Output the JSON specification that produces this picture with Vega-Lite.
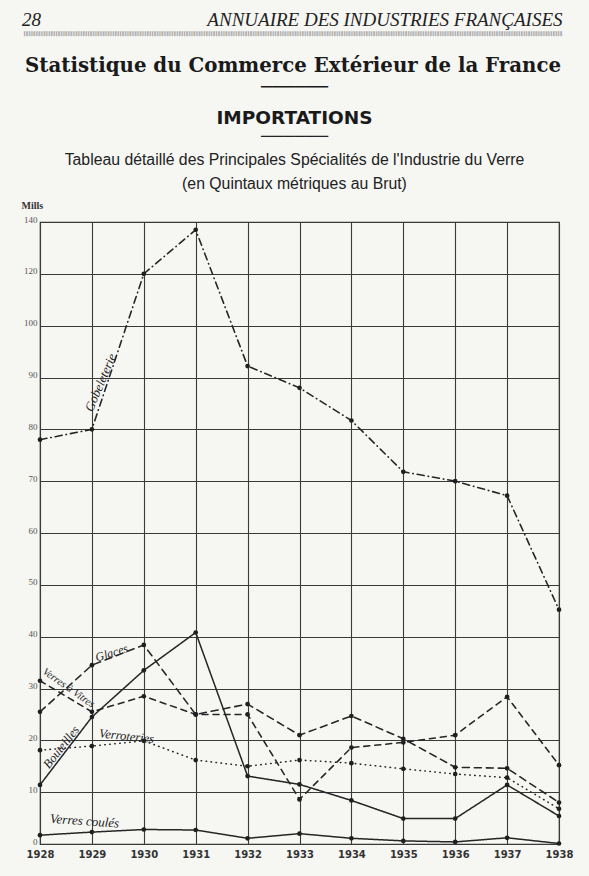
{
  "$schema": "https://vega.github.io/schema/vega-lite/v6.json",
  "background": "#f6f6f3",
  "padding": {"left": 20, "top": 11, "right": 27, "bottom": 19},
  "title": {
    "text": "28\u00a0\u00a0\u00a0\u00a0\u00a0\u00a0\u00a0\u00a0\u00a0\u00a0\u00a0\u00a0\u00a0\u00a0\u00a0\u00a0\u00a0\u00a0\u00a0\u00a0\u00a0\u00a0\u00a0\u00a0\u00a0\u00a0\u00a0\u00a0\u00a0\u00a0\u00a0\u00a0\u00a0\u00a0\u00a0ANNUAIRE DES INDUSTRIES FRANÇAISES",
    "subtitle": "||||||||||||||||||||||||||||||||||||||||||||||||||||||||||||||||||||||||||||||||||||||||||||||||||||||||||||||||||||||||||||||||||||||||||||||||||||||||||||||||||||||||||||||||||||||||||||||||||||||||||||||||||||||||||||||||||||||||||||||||||||||||||||||||||||||||||||||||||||||||||||||||||||||||||||||||||||||||||||||||",
    "anchor": "end",
    "frame": "bounds",
    "dx": -11,
    "font": "Liberation Serif",
    "fontStyle": "italic",
    "fontWeight": "normal",
    "fontSize": 19,
    "color": "#222222",
    "subtitleFont": "DejaVu Sans",
    "subtitleFontSize": 5,
    "subtitleColor": "#333333",
    "subtitlePadding": 1,
    "offset": 20
  },
  "datasets": {
    "series": [
      {"series": "Gobeleterie", "year": 1928, "value": 78},
      {"series": "Gobeleterie", "year": 1929, "value": 80},
      {"series": "Gobeleterie", "year": 1930, "value": 120},
      {"series": "Gobeleterie", "year": 1931, "value": 137},
      {"series": "Gobeleterie", "year": 1932, "value": 92.2},
      {"series": "Gobeleterie", "year": 1933, "value": 88},
      {"series": "Gobeleterie", "year": 1934, "value": 81.7},
      {"series": "Gobeleterie", "year": 1935, "value": 71.8},
      {"series": "Gobeleterie", "year": 1936, "value": 70},
      {"series": "Gobeleterie", "year": 1937, "value": 67.2},
      {"series": "Gobeleterie", "year": 1938, "value": 45.2},
      {"series": "Glaces", "year": 1928, "value": 25.5},
      {"series": "Glaces", "year": 1929, "value": 34.5},
      {"series": "Glaces", "year": 1930, "value": 38.4},
      {"series": "Glaces", "year": 1931, "value": 25},
      {"series": "Glaces", "year": 1932, "value": 27},
      {"series": "Glaces", "year": 1933, "value": 21},
      {"series": "Glaces", "year": 1934, "value": 24.7},
      {"series": "Glaces", "year": 1935, "value": 20.3},
      {"series": "Glaces", "year": 1936, "value": 14.8},
      {"series": "Glaces", "year": 1937, "value": 14.6},
      {"series": "Glaces", "year": 1938, "value": 8},
      {"series": "Verres à Vitres", "year": 1928, "value": 31.5},
      {"series": "Verres à Vitres", "year": 1929, "value": 25.5},
      {"series": "Verres à Vitres", "year": 1930, "value": 28.5},
      {"series": "Verres à Vitres", "year": 1931, "value": 25},
      {"series": "Verres à Vitres", "year": 1932, "value": 25},
      {"series": "Verres à Vitres", "year": 1933, "value": 8.6},
      {"series": "Verres à Vitres", "year": 1934, "value": 18.6},
      {"series": "Verres à Vitres", "year": 1935, "value": 19.6},
      {"series": "Verres à Vitres", "year": 1936, "value": 21},
      {"series": "Verres à Vitres", "year": 1937, "value": 28.4},
      {"series": "Verres à Vitres", "year": 1938, "value": 15.2},
      {"series": "Verroteries", "year": 1928, "value": 18.1},
      {"series": "Verroteries", "year": 1929, "value": 18.9},
      {"series": "Verroteries", "year": 1930, "value": 19.9},
      {"series": "Verroteries", "year": 1931, "value": 16.2},
      {"series": "Verroteries", "year": 1932, "value": 15},
      {"series": "Verroteries", "year": 1933, "value": 16.2},
      {"series": "Verroteries", "year": 1934, "value": 15.6},
      {"series": "Verroteries", "year": 1935, "value": 14.5},
      {"series": "Verroteries", "year": 1936, "value": 13.5},
      {"series": "Verroteries", "year": 1937, "value": 12.8},
      {"series": "Verroteries", "year": 1938, "value": 6.8},
      {"series": "Bouteilles", "year": 1928, "value": 11.4},
      {"series": "Bouteilles", "year": 1929, "value": 24.5},
      {"series": "Bouteilles", "year": 1930, "value": 33.5},
      {"series": "Bouteilles", "year": 1931, "value": 40.8},
      {"series": "Bouteilles", "year": 1932, "value": 13.1},
      {"series": "Bouteilles", "year": 1933, "value": 11.5},
      {"series": "Bouteilles", "year": 1934, "value": 8.4},
      {"series": "Bouteilles", "year": 1935, "value": 4.9},
      {"series": "Bouteilles", "year": 1936, "value": 4.9},
      {"series": "Bouteilles", "year": 1937, "value": 11.4},
      {"series": "Bouteilles", "year": 1938, "value": 5.4},
      {"series": "Verres coulés", "year": 1928, "value": 1.7},
      {"series": "Verres coulés", "year": 1929, "value": 2.3},
      {"series": "Verres coulés", "year": 1930, "value": 2.8},
      {"series": "Verres coulés", "year": 1931, "value": 2.7},
      {"series": "Verres coulés", "year": 1932, "value": 1.1},
      {"series": "Verres coulés", "year": 1933, "value": 2},
      {"series": "Verres coulés", "year": 1934, "value": 1.1},
      {"series": "Verres coulés", "year": 1935, "value": 0.6},
      {"series": "Verres coulés", "year": 1936, "value": 0.4},
      {"series": "Verres coulés", "year": 1937, "value": 1.2},
      {"series": "Verres coulés", "year": 1938, "value": 0.1}
    ],
    "labels": [
      {"label": "Gobeleterie", "year": 1929.17, "value": 89},
      {"label": "Glaces", "year": 1929.38, "value": 36.9},
      {"label": "Verres à Vitres", "year": 1928.55, "value": 30.1},
      {"label": "Bouteilles", "year": 1928.41, "value": 18.7},
      {"label": "Verroteries", "year": 1929.67, "value": 20.8},
      {"label": "Verres coulés", "year": 1928.86, "value": 4.4}
    ]
  },
  "vconcat": [
    {
      "title": {
        "text": "Statistique du Commerce Extérieur de la France",
        "anchor": "start",
        "frame": "group",
        "dx": -15,
        "font": "DejaVu Serif",
        "fontWeight": "bold",
        "fontSize": 19.8,
        "color": "#1a1a1a",
        "offset": 1
      },
      "vconcat": [
        {
          "title": {
            "text": ["──────", "IMPORTATIONS"],
            "subtitle": ["──────", "Tableau détaillé des Principales Spécialités de l'Industrie du Verre", "(en Quintaux métriques au Brut)"],
            "anchor": "middle",
            "frame": "group",
            "dx": -5,
            "font": "DejaVu Sans",
            "fontWeight": "bold",
            "fontSize": 18.5,
            "lineHeight": 31,
            "color": "#1a1a1a",
            "subtitleFont": "Liberation Sans",
            "subtitleFontSize": 15.8,
            "subtitleColor": "#222222",
            "subtitleLineHeight": 24,
            "subtitlePadding": 2,
            "offset": 8
          },
          "width": 519,
          "height": 622,
          "data": {"name": "series"},
          "layer": [
            {
              "mark": {"type": "line", "color": "#262626", "strokeCap": "round"},
              "encoding": {
                "x": {
                  "field": "year", "type": "quantitative",
                  "scale": {"domain": [1928, 1938], "nice": false, "zero": false},
                  "axis": {
                    "values": [1928, 1929, 1930, 1931, 1932, 1933, 1934, 1935, 1936, 1937, 1938],
                    "format": "d", "title": null, "domain": false, "ticks": false,
                    "grid": true, "gridColor": "#3a3a3a", "gridWidth": 1.1, "gridOpacity": 1,
                    "labelFont": "DejaVu Sans", "labelFontWeight": "bold", "labelFontSize": 10,
                    "labelColor": "#333333", "labelPadding": 5, "labelFlush": false
                  }
                },
                "y": {
                  "field": "value", "type": "quantitative",
                  "scale": {"domain": [0, 90, 100, 140], "range": [622, 155.5, 103.667, 0], "nice": false, "zero": false},
                  "axis": {
                    "values": [0, 10, 20, 30, 40, 50, 60, 70, 80, 90, 100, 120, 140],
                    "title": "Mills", "titleAngle": 0, "titleAlign": "left", "titleBaseline": "alphabetic",
                    "titleX": -19, "titleY": -14, "titleFont": "Liberation Serif", "titleFontSize": 10,
                    "titleFontWeight": "bold", "titleColor": "#333333",
                    "domain": false, "ticks": false,
                    "grid": true, "gridColor": "#3a3a3a", "gridWidth": 1.1, "gridOpacity": 1,
                    "labelFont": "Liberation Serif", "labelFontSize": 9, "labelColor": "#555555",
                    "labelPadding": 3, "labelOverlap": false, "labelFlush": false, "labelBaseline": "alphabetic"
                  }
                },
                "detail": {"field": "series"},
                "strokeDash": {
                  "field": "series", "type": "nominal", "legend": null,
                  "scale": {
                    "domain": ["Gobeleterie", "Glaces", "Verres à Vitres", "Verroteries", "Bouteilles", "Verres coulés"],
                    "range": [[7, 4, 0.5, 4], [7, 5], [6, 5], [0.5, 4.5], [1, 0], [1, 0]]
                  }
                },
                "strokeWidth": {
                  "field": "series", "type": "ordinal", "legend": null,
                  "scale": {
                    "domain": ["Gobeleterie", "Glaces", "Verres à Vitres", "Verroteries", "Bouteilles", "Verres coulés"],
                    "range": [1.6, 1.5, 2.2, 2.8, 1.4, 3.4]
                  }
                }
              }
            },
            {
              "mark": {"type": "circle", "color": "#1f1f1f", "size": 22, "opacity": 1},
              "encoding": {
                "x": {"field": "year", "type": "quantitative"},
                "y": {"field": "value", "type": "quantitative"}
              }
            },
            {
              "data": {"name": "labels"},
              "transform": [{"filter": "datum.label == 'Gobeleterie'"}],
              "mark": {"type": "text", "angle": -67, "font": "Liberation Serif", "fontStyle": "italic", "fontSize": 13, "color": "#222222"},
              "encoding": {"x": {"field": "year", "type": "quantitative"}, "y": {"field": "value", "type": "quantitative"}, "text": {"field": "label"}}
            },
            {
              "data": {"name": "labels"},
              "transform": [{"filter": "datum.label == 'Glaces'"}],
              "mark": {"type": "text", "angle": -17, "font": "Liberation Serif", "fontStyle": "italic", "fontSize": 12, "color": "#222222"},
              "encoding": {"x": {"field": "year", "type": "quantitative"}, "y": {"field": "value", "type": "quantitative"}, "text": {"field": "label"}}
            },
            {
              "data": {"name": "labels"},
              "transform": [{"filter": "datum.label == 'Verres à Vitres'"}],
              "mark": {"type": "text", "angle": 35, "font": "Liberation Serif", "fontStyle": "italic", "fontSize": 10.5, "color": "#222222"},
              "encoding": {"x": {"field": "year", "type": "quantitative"}, "y": {"field": "value", "type": "quantitative"}, "text": {"field": "label"}}
            },
            {
              "data": {"name": "labels"},
              "transform": [{"filter": "datum.label == 'Bouteilles'"}],
              "mark": {"type": "text", "angle": -52, "font": "Liberation Serif", "fontStyle": "italic", "fontSize": 12.5, "color": "#222222"},
              "encoding": {"x": {"field": "year", "type": "quantitative"}, "y": {"field": "value", "type": "quantitative"}, "text": {"field": "label"}}
            },
            {
              "data": {"name": "labels"},
              "transform": [{"filter": "datum.label == 'Verroteries'"}],
              "mark": {"type": "text", "angle": 6, "font": "Liberation Serif", "fontStyle": "italic", "fontSize": 12.5, "color": "#222222"},
              "encoding": {"x": {"field": "year", "type": "quantitative"}, "y": {"field": "value", "type": "quantitative"}, "text": {"field": "label"}}
            },
            {
              "data": {"name": "labels"},
              "transform": [{"filter": "datum.label == 'Verres coulés'"}],
              "mark": {"type": "text", "angle": 4, "font": "Liberation Serif", "fontStyle": "italic", "fontSize": 13, "color": "#222222"},
              "encoding": {"x": {"field": "year", "type": "quantitative"}, "y": {"field": "value", "type": "quantitative"}, "text": {"field": "label"}}
            }
          ]
        }
      ]
    }
  ],
  "config": {
    "view": {"stroke": "#333333", "strokeWidth": 1.2},
    "concat": {"spacing": 0}
  }
}
